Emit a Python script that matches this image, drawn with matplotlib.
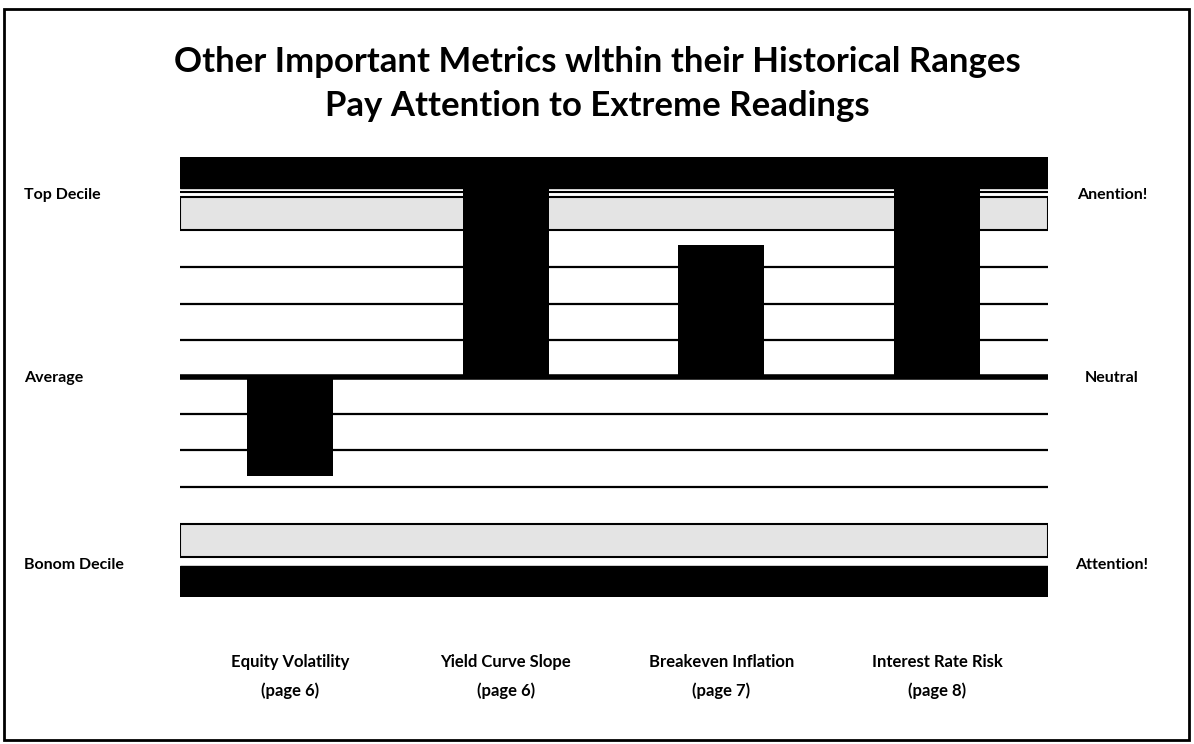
import matplotlib
matplotlib.use("Agg")
from matplotlib import pyplot as plt
from matplotlib.patches import Rectangle

# data (units = grid steps from the average line)
categories = ["Equity Volatility\n(page 6)", "Yield Curve Slope\n(page 6)",
              "Breakeven Inflation\n(page 7)", "Interest Rate Risk\n(page 8)"]
values = [-2.7, 6.0, 3.6, 6.0]
grid_levels = [-3, -2, -1, 1, 2, 3]
left_labels = ["Top Decile", "Average", "Bonom Decile"]
right_labels = ["Anention!", "Neutral", "Attention!"]
title = "Other Important Metrics wlthin their Historical Ranges\nPay Attention to Extreme Readings"

W, H = 1194, 744
fig = plt.figure(figsize=(W / 100, H / 100), dpi=100)
ax = fig.add_axes([180 / W, 1 - 597 / H, (1048 - 180) / W, (597 - 157) / H])

x = list(range(len(categories)))

# decile bands
ax.axhspan(5.15, 6.0, color="black", zorder=1)
ax.axhline(5.05, color="black", lw=1.5, zorder=1)
ax.axhspan(4.0, 4.9, facecolor="#e4e4e4", edgecolor="black", lw=1.5, zorder=1)
ax.axhspan(-4.0, -4.9, facecolor="#e4e4e4", edgecolor="black", lw=1.5, zorder=1)
ax.axhspan(-5.15, -6.0, color="black", zorder=1)

for g in grid_levels:
    ax.axhline(g, color="black", lw=1.6, zorder=1)
ax.axhline(0, color="black", lw=4, zorder=4)

ax.bar(x, values, width=0.4, color="black", zorder=3)

ax.set_xlim(-0.51, 3.515)
ax.set_ylim(-6, 6)
ax.axis("off")

fs = "Lato"
for xi, c in zip(x, categories):
    ax.text(xi, -7.55, c, ha="center", va="top", fontsize=12, family=fs,
            fontweight="bold", linespacing=1.95)

fig.text(0.5, 1 - 84 / H, title, ha="center", va="center", fontsize=25,
         fontweight="bold", family=fs, linespacing=1.45)

ys = [195, 378, 565]
for lab, y in zip(left_labels, ys):
    fig.text(24 / W, 1 - y / H, lab, ha="left", va="center", fontsize=11.5,
             fontweight="bold", family=fs)
for lab, y in zip(right_labels, ys):
    fig.text(1112 / W, 1 - y / H, lab, ha="center", va="center", fontsize=11.5,
             fontweight="bold", family=fs)

fig.patches.append(Rectangle((4 / W, 4 / H), (1189 - 4) / W, (735 - 4) / H,
                             transform=fig.transFigure, fill=False,
                             edgecolor="black", lw=2))

fig.savefig("out.png", dpi=100)
